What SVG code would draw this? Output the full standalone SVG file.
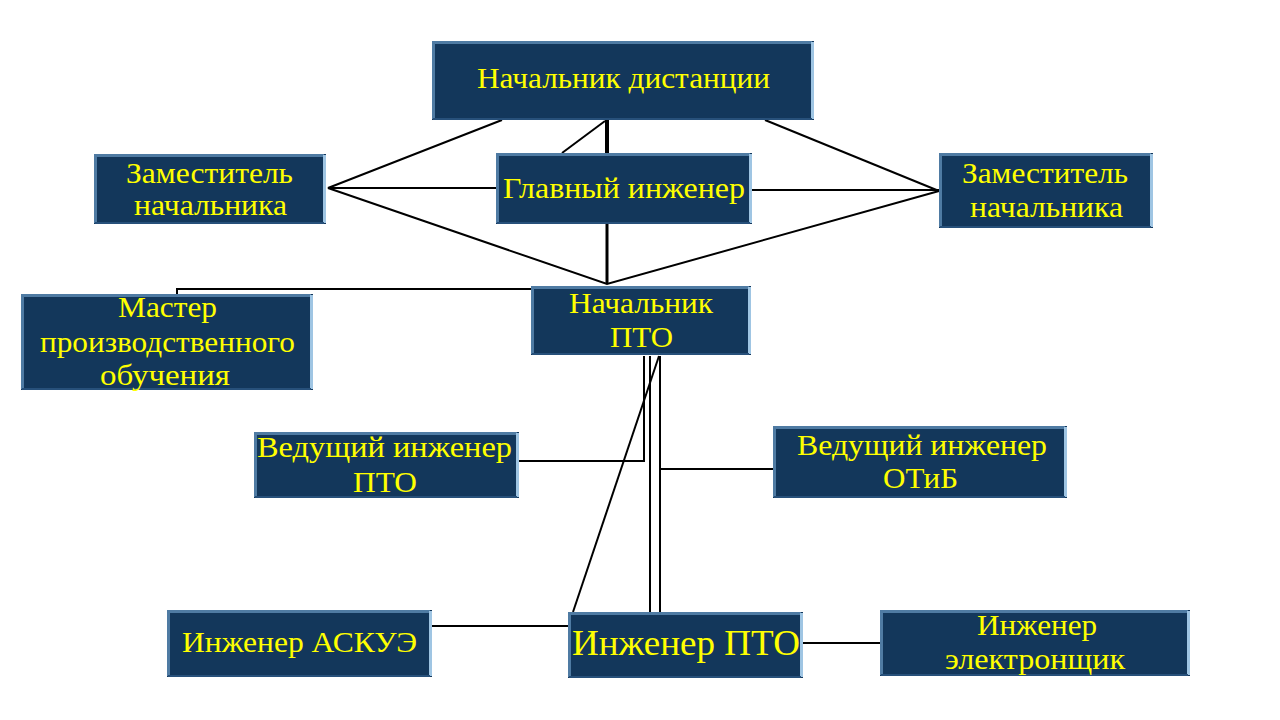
<svg xmlns="http://www.w3.org/2000/svg" width="1280" height="720" viewBox="0 0 1280 720">
<style>
.box{fill:#13375b}
.hl{fill:none;stroke:#4f7ba3;stroke-width:3}
.rt{fill:none;stroke:#9fc5e3;stroke-width:3}
.bt{fill:none;stroke:#27507a;stroke-width:2}
.t{font-family:"Liberation Serif","Times New Roman",serif;font-size:30px;fill:#ffff00;text-anchor:middle}
.big{font-size:36px}
.c{fill:none;stroke:#000;stroke-width:2}
.thick{stroke-width:4}
.mid{stroke-width:3}
</style>
<rect width="1280" height="720" fill="#fff"/>
<g id="connectors">
<path class="c thick" d="M607,120 V153"/>
<path class="c mid" d="M607,224 V284"/>
<path class="c" d="M605,121 L562,153"/>
<path class="c" d="M502,120 L328,188 L496,188"/>
<path class="c" d="M328,188 L607,284 L939,191"/>
<path class="c" d="M765,120 L939,191"/>
<path class="c" d="M752,190 H939"/>
<path class="c" d="M177,295 V289 H531"/>
<path class="c" d="M644,356 V461 H519"/>
<path class="c" d="M650,356 V612"/>
<path class="c" d="M660,356 V612"/>
<path class="c" d="M660,469 H773"/>
<path class="c" d="M659,356 L573,612"/>
<path class="c" d="M432,626 H568"/>
<path class="c" d="M803,643 H880"/>
</g>
<g id="n1">
<rect class="box" x="432" y="41" width="382" height="79"/>
<path class="hl" d="M433.5,119 V42.5 H812"/><path class="rt" d="M812.5,42 V119"/><path class="bt" d="M433,119 H812"/>
<text class="t" x="623.5" y="88" textLength="293" lengthAdjust="spacingAndGlyphs">Начальник дистанции</text>
</g>
<g id="n2">
<rect class="box" x="496" y="153" width="256" height="71"/>
<path class="hl" d="M497.5,223 V154.5 H750"/><path class="rt" d="M750.5,154 V223"/><path class="bt" d="M497,223 H750"/>
<text class="t" x="624" y="198" textLength="242" lengthAdjust="spacingAndGlyphs">Главный инженер</text>
</g>
<g id="n3">
<rect class="box" x="94" y="154" width="232" height="70"/>
<path class="hl" d="M95.5,223 V155.5 H324"/><path class="rt" d="M324.5,155 V223"/><path class="bt" d="M95,223 H324"/>
<text class="t" x="209.5" y="183" textLength="167" lengthAdjust="spacingAndGlyphs">Заместитель</text>
<text class="t" x="210.5" y="215" textLength="153" lengthAdjust="spacingAndGlyphs">начальника</text>
</g>
<g id="n4">
<rect class="box" x="939" y="153" width="214" height="75"/>
<path class="hl" d="M940.5,227 V154.5 H1151"/><path class="rt" d="M1151.5,154 V227"/><path class="bt" d="M940,227 H1151"/>
<text class="t" x="1045" y="183" textLength="166" lengthAdjust="spacingAndGlyphs">Заместитель</text>
<text class="t" x="1046.5" y="217" textLength="153" lengthAdjust="spacingAndGlyphs">начальника</text>
</g>
<g id="n5">
<rect class="box" x="21" y="294" width="292" height="96"/>
<path class="hl" d="M22.5,389 V295.5 H311"/><path class="rt" d="M311.5,295 V389"/><path class="bt" d="M22,389 H311"/>
<text class="t" x="167.5" y="317" textLength="99" lengthAdjust="spacingAndGlyphs">Мастер</text>
<text class="t" x="167.5" y="352" textLength="255" lengthAdjust="spacingAndGlyphs">производственного</text>
<text class="t" x="165" y="385" textLength="130" lengthAdjust="spacingAndGlyphs">обучения</text>
</g>
<g id="n6">
<rect class="box" x="531" y="286" width="220" height="69"/>
<path class="hl" d="M532.5,354 V287.5 H749"/><path class="rt" d="M749.5,287 V354"/><path class="bt" d="M532,354 H749"/>
<text class="t" x="641" y="313" textLength="144" lengthAdjust="spacingAndGlyphs">Начальник</text>
<text class="t" x="641.5" y="347" textLength="63" lengthAdjust="spacingAndGlyphs">ПТО</text>
</g>
<g id="n7">
<rect class="box" x="254" y="432" width="265" height="66"/>
<path class="hl" d="M255.5,497 V433.5 H517"/><path class="rt" d="M517.5,433 V497"/><path class="bt" d="M255,497 H517"/>
<text class="t" x="384.5" y="457" textLength="255" lengthAdjust="spacingAndGlyphs">Ведущий инженер</text>
<text class="t" x="385" y="492" textLength="64" lengthAdjust="spacingAndGlyphs">ПТО</text>
</g>
<g id="n8">
<rect class="box" x="773" y="426" width="294" height="72"/>
<path class="hl" d="M774.5,497 V427.5 H1065"/><path class="rt" d="M1065.5,427 V497"/><path class="bt" d="M774,497 H1065"/>
<text class="t" x="922" y="455" textLength="250" lengthAdjust="spacingAndGlyphs">Ведущий инженер</text>
<text class="t" x="920.5" y="488" textLength="75" lengthAdjust="spacingAndGlyphs">ОТиБ</text>
</g>
<g id="n9">
<rect class="box" x="167" y="610" width="265" height="67"/>
<path class="hl" d="M168.5,676 V611.5 H430"/><path class="rt" d="M430.5,611 V676"/><path class="bt" d="M168,676 H430"/>
<text class="t" x="299.5" y="652" textLength="235" lengthAdjust="spacingAndGlyphs">Инженер АСКУЭ</text>
</g>
<g id="n10">
<rect class="box" x="568" y="612" width="235" height="66"/>
<path class="hl" d="M569.5,677 V613.5 H801"/><path class="rt" d="M801.5,613 V677"/><path class="bt" d="M569,677 H801"/>
<text class="t big" x="686" y="655" textLength="228" lengthAdjust="spacingAndGlyphs">Инженер ПТО</text>
</g>
<g id="n11">
<rect class="box" x="880" y="610" width="310" height="66"/>
<path class="hl" d="M881.5,675 V611.5 H1188"/><path class="rt" d="M1188.5,611 V675"/><path class="bt" d="M881,675 H1188"/>
<text class="t" x="1037" y="635" textLength="120" lengthAdjust="spacingAndGlyphs">Инженер</text>
<text class="t" x="1035" y="669" textLength="180" lengthAdjust="spacingAndGlyphs">электронщик</text>
</g>
</svg>
